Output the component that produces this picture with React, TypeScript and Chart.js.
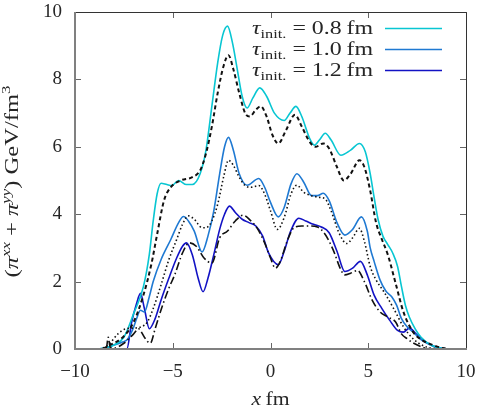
import { useEffect, useRef } from 'react';
import { Chart, registerables } from 'chart.js';

Chart.register(...registerables);

const SERIF = '"Liberation Serif", "Times New Roman", serif';

// Axis ticks
const X_TICKS = [-10, -5, 0, 5, 10];
const Y_TICKS = [0, 2, 4, 6, 8, 10];

// Initial proper times shown in the legend
const TAU_LABELS = ['0.8', '1.0', '1.2'];

// tau_init = 0.8 fm (solid) and its dashed companion
const tau08X = [-10, -9, -8.5, -8.0, -7.5, -7.0, -6.5, -6.2, -6.0, -5.8, -5.6, -5.3, -5.05, -4.7, -4.3, -4.0, -3.6, -3.3, -3.0, -2.7, -2.45, -2.2, -1.95, -1.7, -1.45, -1.2, -0.9, -0.55, -0.2, 0.2, 0.7, 1.0, 1.3, 1.6, 2.0, 2.25, 2.5, 2.8, 3.1, 3.6, 4.1, 4.55, 4.85, 5.1, 5.3, 5.5, 5.75, 6.0, 6.25, 6.5, 6.7, 6.9, 7.1, 7.4, 7.7, 8.2, 8.7, 9.2, 10];
const tau08Y = [0, 0, 0.03, 0.12, 0.35, 1.05, 1.85, 2.8, 3.8, 4.6, 4.92, 4.88, 4.85, 5.0, 4.88, 4.88, 5.2, 5.9, 7.2, 8.5, 9.3, 9.58, 9.1, 8.3, 7.5, 7.15, 7.45, 7.75, 7.5, 7.0, 6.78, 7.0, 7.2, 6.9, 6.25, 6.05, 6.2, 6.4, 6.2, 5.75, 5.9, 6.1, 5.85, 5.2, 4.5, 3.85, 3.35, 3.1, 2.85, 2.45, 1.85, 1.3, 0.95, 0.6, 0.35, 0.12, 0.03, 0, 0];

const ref08X = [-10, -8.7, -8.2, -7.5, -7.0, -6.5, -6.1, -5.8, -5.45, -5.1, -4.6, -4.0, -3.6, -3.3, -3.0, -2.7, -2.4, -2.15, -1.9, -1.6, -1.3, -1.05, -0.75, -0.5, -0.2, 0.1, 0.4, 0.8, 1.25, 1.6, 2.0, 2.3, 2.7, 3.0, 3.4, 3.75, 4.1, 4.55, 4.8, 5.1, 5.4, 5.7, 6.0, 6.4, 6.8, 7.3, 7.8, 8.3, 8.8, 9.2, 10];
const ref08Y = [0, 0, 0.12, 0.38, 0.8, 1.6, 2.5, 3.4, 4.4, 4.8, 5.0, 5.1, 5.3, 5.8, 6.6, 7.6, 8.4, 8.72, 8.3, 7.6, 7.0, 6.9, 7.1, 7.2, 6.9, 6.35, 6.1, 6.5, 6.95, 6.6, 6.15, 6.0, 6.1, 5.95, 5.4, 5.0, 5.2, 5.6, 5.4, 4.7, 3.75, 3.25, 2.8, 1.95, 1.1, 0.5, 0.25, 0.12, 0.03, 0, 0];

// tau_init = 1.0 fm (solid) and its dotted companion
const tau10X = [-10, -9, -8.5, -8.0, -7.6, -7.3, -7.0, -6.85, -6.65, -6.45, -6.2, -6.0, -5.6, -5.1, -4.7, -4.45, -4.2, -3.9, -3.5, -3.2, -2.9, -2.6, -2.35, -2.15, -1.9, -1.6, -1.2, -0.6, -0.3, 0.0, 0.4, 0.7, 1.05, 1.35, 1.7, 2.1, 2.4, 2.7, 3.0, 3.4, 3.8, 4.2, 4.65, 4.95, 5.1, 5.3, 5.6, 5.9, 6.2, 6.45, 6.7, 7.0, 7.3, 7.7, 8.0, 8.5, 9.0, 10];
const tau10Y = [0, 0, 0.02, 0.12, 0.2, 0.3, 0.65, 0.9, 1.15, 1.1, 1.55, 2.0, 2.65, 3.25, 3.75, 3.93, 3.8, 3.5, 2.88, 3.35, 4.1, 5.2, 6.0, 6.28, 5.9, 5.2, 4.86, 5.06, 4.8, 4.35, 3.92, 4.2, 4.9, 5.2, 4.95, 4.55, 4.55, 4.62, 4.4, 3.75, 3.38, 3.55, 3.92, 3.5, 3.0, 2.6, 2.05, 1.72, 1.55, 1.3, 0.9, 0.65, 0.5, 0.28, 0.18, 0.05, 0, 0];

const ref10X = [-10, -8.8, -8.3, -7.8, -7.4, -7.0, -6.6, -6.3, -6.0, -5.6, -5.2, -4.8, -4.5, -4.2, -3.9, -3.5, -3.3, -3.0, -2.7, -2.4, -2.15, -1.9, -1.6, -1.3, -1.0, -0.6, -0.3, 0.0, 0.35, 0.7, 1.05, 1.35, 1.7, 2.1, 2.5, 2.8, 3.1, 3.5, 3.9, 4.2, 4.55, 4.8, 5.1, 5.4, 5.8, 6.3, 6.8, 7.3, 7.8, 8.3, 8.8, 10];
const ref10Y = [0, 0, 0.12, 0.45, 0.6, 0.62, 0.66, 0.8, 1.2, 1.9, 2.65, 3.25, 3.7, 3.95, 3.85, 3.6, 3.6, 3.8, 4.3, 5.1, 5.6, 5.45, 5.1, 4.85, 4.8, 4.85, 4.6, 4.1, 3.55, 3.9, 4.6, 4.86, 4.65, 4.55, 4.5, 4.45, 4.1, 3.45, 3.13, 3.3, 3.58, 3.2, 2.45, 2.05, 1.7, 1.2, 0.66, 0.3, 0.1, 0.02, 0, 0];

// tau_init = 1.2 fm (solid) and its dash-dotted companion
const tau12X = [-10, -7.35, -7.1, -6.85, -6.65, -6.45, -6.2, -5.9, -5.6, -5.2, -4.8, -4.5, -4.3, -4.0, -3.7, -3.45, -3.2, -2.9, -2.6, -2.35, -2.1, -1.8, -1.45, -1.1, -0.75, -0.4, -0.1, 0.4, 0.7, 1.0, 1.45, 1.8, 2.2, 2.6, 3.0, 3.4, 3.8, 4.2, 4.6, 4.95, 5.3, 5.7, 6.1, 6.5, 6.8, 7.1, 7.4, 7.7, 8.2, 8.7, 9.2, 10];
const tau12Y = [0, 0, 0.8, 1.35, 1.65, 1.2, 0.6, 0.9, 1.45, 2.1, 2.7, 3.05, 3.15, 2.8, 2.1, 1.7, 2.1, 2.8, 3.55, 4.0, 4.24, 4.05, 3.85, 3.75, 3.65, 3.35, 2.85, 2.5, 2.9, 3.45, 3.88, 3.8, 3.7, 3.62, 3.45, 2.9, 2.3, 2.4, 2.6, 2.2, 1.6, 1.2, 0.85, 0.55, 0.5, 0.62, 0.48, 0.3, 0.12, 0.03, 0, 0];

const ref12X = [-10, -8.6, -8.4, -8.3, -8.2, -8.0, -7.5, -7.0, -6.75, -6.45, -6.15, -5.9, -5.6, -5.2, -4.9, -4.5, -4.15, -3.8, -3.4, -3.0, -2.6, -2.2, -1.8, -1.4, -1.0, -0.7, -0.3, 0.0, 0.25, 0.5, 0.85, 1.2, 1.6, 2.0, 2.4, 2.8, 3.2, 3.6, 3.8, 4.1, 4.45, 4.8, 5.2, 5.6, 6.0, 6.4, 6.7, 7.0, 7.3, 7.7, 8.0, 8.5, 10];
const ref12Y = [0, 0, 0.02, 0.35, 0.05, 0.03, 0.17, 0.45, 0.6, 0.35, 0.17, 0.6, 1.16, 1.8, 2.2, 2.85, 3.15, 3.05, 2.7, 2.55, 3.3, 3.5, 3.8, 3.97, 3.8, 3.6, 3.15, 2.7, 2.4, 2.6, 3.2, 3.6, 3.65, 3.65, 3.62, 3.4, 2.95, 2.35, 2.2, 2.25, 2.33, 2.0, 1.45, 1.1, 0.95, 0.8, 0.45, 0.3, 0.18, 0.07, 0.02, 0, 0];

const COLORS = ['#08c6d2', '#1f79d2', '#1212c4'];
const TEXT = '#262626';

const zip = (xs: number[], ys: number[]) =>
  xs.slice(0, Math.min(xs.length, ys.length)).map((x, i) => ({ x, y: ys[i] }));

type Piece = { text: string; size: number; italic?: boolean; dy?: number };

const fontOf = (p: Piece) => `${p.italic ? 'italic ' : ''}${p.size}px ${SERIF}`;

function richWidth(ctx: CanvasRenderingContext2D, pieces: Piece[]) {
  let w = 0;
  for (const p of pieces) {
    ctx.font = fontOf(p);
    w += ctx.measureText(p.text).width;
  }
  return w;
}

// Draws a run of mixed-style text from (x, y), stretched horizontally to the given width.
function drawRich(ctx: CanvasRenderingContext2D, pieces: Piece[], x: number, y: number, width: number) {
  const natural = richWidth(ctx, pieces);
  const sx = width / natural;
  ctx.save();
  ctx.translate(x, y);
  ctx.scale(sx, 1);
  ctx.textBaseline = 'alphabetic';
  ctx.textAlign = 'left';
  let cx = 0;
  for (const p of pieces) {
    ctx.font = fontOf(p);
    ctx.fillText(p.text, cx, p.dy ?? 0);
    cx += ctx.measureText(p.text).width;
  }
  ctx.restore();
}

const framePlugin = {
  id: 'frameAndLabels',
  afterDatasetsDraw(chart: any) {
    const { ctx, chartArea } = chart;
    const { left, right, top, bottom } = chartArea;
    const xs = chart.scales.x;
    const ys = chart.scales.y;
    ctx.save();
    ctx.strokeStyle = '#666';
    ctx.lineWidth = 1;
    ctx.beginPath();
    for (const v of X_TICKS) {
      const px = Math.round(xs.getPixelForValue(v)) + 0.5;
      ctx.moveTo(px, bottom);
      ctx.lineTo(px, bottom - 6);
      ctx.moveTo(px, top);
      ctx.lineTo(px, top + 6);
    }
    for (const v of Y_TICKS) {
      const py = Math.round(ys.getPixelForValue(v)) + 0.5;
      ctx.moveTo(left, py);
      ctx.lineTo(left + 6, py);
      ctx.moveTo(right, py);
      ctx.lineTo(right - 6, py);
    }
    ctx.stroke();

    ctx.strokeStyle = '#333';
    ctx.lineWidth = 1;
    ctx.beginPath();
    ctx.moveTo(left, top + 0.5);
    ctx.lineTo(right + 0.5, top + 0.5);
    ctx.lineTo(right + 0.5, bottom);
    ctx.stroke();

    ctx.strokeStyle = '#808080';
    ctx.lineWidth = 2;
    ctx.beginPath();
    ctx.moveTo(left, top);
    ctx.lineTo(left, bottom);
    ctx.lineTo(right + 1, bottom);
    ctx.stroke();
    ctx.restore();
  },
  afterDraw(chart: any) {
    const { ctx, chartArea } = chart;
    const { left, right, top, bottom } = chartArea;
    ctx.save();
    ctx.fillStyle = TEXT;

    // x-axis title
    const xTitle: Piece[] = [
      { text: 'x', size: 19, italic: true },
      { text: '\u2009fm', size: 19 },
    ];
    const cxTitle = (left + right) / 2;
    drawRich(ctx, xTitle, cxTitle - 19, bottom + 56, 38);

    // y-axis title, rotated
    const yTitle: Piece[] = [
      { text: '(', size: 19 },
      { text: 'π', size: 19, italic: true },
      { text: 'xx', size: 13, italic: true, dy: -8 },
      { text: ' + ', size: 19 },
      { text: 'π', size: 19, italic: true },
      { text: 'yy', size: 13, italic: true, dy: -8 },
      { text: ')', size: 19 },
      { text: ' GeV/fm', size: 19 },
      { text: '3', size: 13, dy: -8 },
    ];
    ctx.save();
    ctx.translate(18, (top + bottom) / 2 + 1);
    ctx.rotate(-Math.PI / 2);
    drawRich(ctx, yTitle, -96, 0, 192);
    ctx.restore();

    // legend
    TAU_LABELS.forEach((lab, i) => {
      const yLine = top + 16.5 + i * 21;
      const pieces: Piece[] = [
        { text: 'τ', size: 19, italic: true },
        { text: 'init.', size: 13, dy: 4 },
        { text: ' = ' + lab + '\u2009fm', size: 19 },
      ];
      drawRich(ctx, pieces, 252, yLine + 5, 121);
      ctx.strokeStyle = COLORS[i];
      ctx.lineWidth = 1.6;
      ctx.beginPath();
      ctx.moveTo(385, yLine);
      ctx.lineTo(442, yLine);
      ctx.stroke();
    });
    ctx.restore();
  },
};

const minusFmt = (v: number | string) => {
  const n = Number(v);
  return n < 0 ? '\u2212' + Math.abs(n) : String(n);
};

export default function App() {
  const canvasRef = useRef<HTMLCanvasElement | null>(null);

  useEffect(() => {
    if (!canvasRef.current) return;
    const solid = (label: string, xs: number[], ys: number[], color: string) => ({
      label,
      data: zip(xs, ys),
      borderColor: color,
      borderWidth: 1.6,
      pointRadius: 0,
      fill: false,
      cubicInterpolationMode: 'monotone' as const,
    });
    const black = (label: string, xs: number[], ys: number[], dash: number[], w: number) => ({
      label,
      data: zip(xs, ys),
      borderColor: '#111',
      borderWidth: w,
      borderDash: dash,
      pointRadius: 0,
      fill: false,
      cubicInterpolationMode: 'monotone' as const,
    });

    const chart = new Chart(canvasRef.current, {
      type: 'line',
      data: {
        datasets: [
          black('ref 0.8', ref08X, ref08Y, [4, 3], 2),
          black('ref 1.0', ref10X, ref10Y, [1.5, 2.5], 1.6),
          black('ref 1.2', ref12X, ref12Y, [8, 3, 1.5, 3], 1.6),
          solid('τ 0.8 fm', tau08X, tau08Y, COLORS[0]),
          solid('τ 1.0 fm', tau10X, tau10Y, COLORS[1]),
          solid('τ 1.2 fm', tau12X, tau12Y, COLORS[2]),
        ] as any,
      },
      options: {
        animation: false,
        responsive: false,
        events: [],
        layout: { padding: { left: 0, right: 14, top: 12, bottom: 0 } },
        plugins: { legend: { display: false }, tooltip: { enabled: false } },
        scales: {
          x: {
            type: 'linear',
            min: -10,
            max: 10,
            afterBuildTicks: (s: any) => {
              s.ticks = X_TICKS.map((v) => ({ value: v }));
            },
            afterFit: (s: any) => {
              s.height = 62;
              s.paddingLeft = 0;
              s.paddingRight = 0;
            },
            grid: { display: false, drawTicks: false },
            border: { display: false },
            ticks: {
              padding: 12,
              maxRotation: 0,
              color: TEXT,
              font: { family: SERIF, size: 19 },
              callback: minusFmt,
            },
          },
          y: {
            type: 'linear',
            min: 0,
            max: 10,
            afterBuildTicks: (s: any) => {
              s.ticks = Y_TICKS.map((v) => ({ value: v }));
            },
            afterFit: (s: any) => {
              s.width = 75;
              s.paddingTop = 0;
              s.paddingBottom = 0;
            },
            grid: { display: false, drawTicks: false },
            border: { display: false },
            ticks: {
              padding: 13,
              color: TEXT,
              font: { family: SERIF, size: 19 },
              callback: minusFmt,
            },
          },
        },
      } as any,
      plugins: [framePlugin],
    });
    return () => chart.destroy();
  }, []);

  return (
    <div style={{ position: 'absolute', left: 0, top: 0, width: 480, height: 411, background: '#fff' }}>
      <canvas ref={canvasRef} width={480} height={411} style={{ display: 'block' }} />
    </div>
  );
}
